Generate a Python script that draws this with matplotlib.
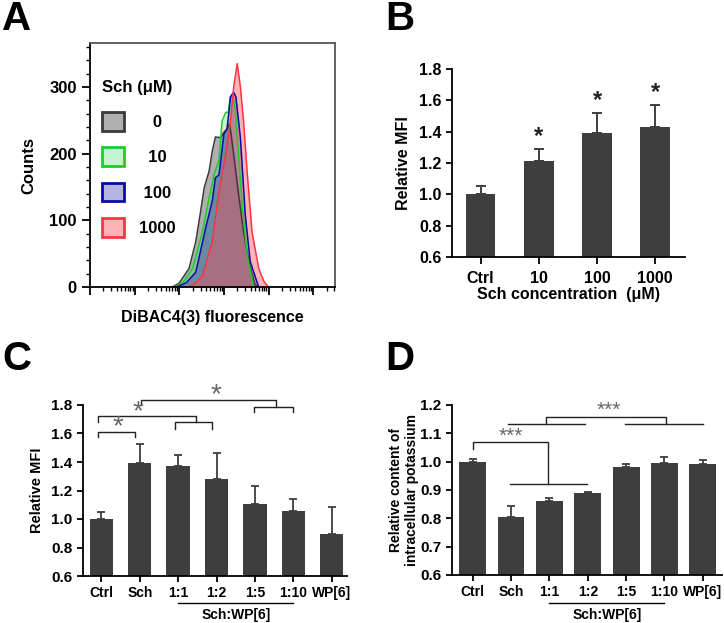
import matplotlib
matplotlib.use("Agg")
import matplotlib.pyplot as plt
import numpy as np
from matplotlib.patches import Patch
from matplotlib.ticker import MultipleLocator, LogLocator, NullFormatter
import matplotlib.transforms as mtransforms

plt.rcParams["font.family"] = ["Liberation Sans", "DejaVu Sans"]
plt.rcParams["font.weight"] = "bold"
plt.rcParams["axes.labelweight"] = "bold"

# ---- panel A: histogram outlines (log10 fluorescence, counts)
sch_doses = ["0", "10", "100", "1000"]
gray_dec = [1.85, 2.00, 2.22, 2.37, 2.48, 2.56, 2.67, 2.74, 2.81, 2.93, 3.00, 3.07, 3.13, 3.22, 3.33, 3.44, 3.56, 3.70, 3.80]
gray_cnt = [0, 6, 28, 68, 114, 149, 174, 204, 225, 224, 232, 237, 245, 199, 139, 83, 37, 3, 0]
green_dec = [1.90, 2.10, 2.30, 2.52, 2.67, 2.78, 2.89, 2.96, 3.04, 3.10, 3.14, 3.19, 3.25, 3.30, 3.41, 3.52, 3.67]
green_cnt = [0, 8, 28, 83, 134, 169, 190, 249, 262, 262, 285, 290, 270, 224, 124, 48, 0]
blue_dec = [1.93, 2.15, 2.37, 2.59, 2.74, 2.81, 2.89, 3.00, 3.07, 3.15, 3.22, 3.27, 3.37, 3.48, 3.59, 3.78]
blue_cnt = [0, 6, 22, 88, 129, 164, 168, 229, 237, 285, 292, 285, 224, 108, 38, 0]
red_dec = [2.19, 2.35, 2.52, 2.74, 2.85, 2.93, 3.04, 3.15, 3.22, 3.30, 3.37, 3.44, 3.52, 3.63, 3.78, 3.90, 4.00]
red_cnt = [0, 5, 17, 68, 124, 159, 199, 249, 300, 335, 300, 249, 174, 83, 28, 8, 0]

# ---- panel B
b_groups = ["Ctrl", "10", "100", "1000"]
b_mean = [1.00, 1.21, 1.39, 1.43]
b_err = [0.051, 0.078, 0.130, 0.142]
b_sig = ["", "*", "*", "*"]

# ---- panels C and D share groups
cd_groups = ["Ctrl", "Sch", "1:1", "1:2", "1:5", "1:10", "WP[6]"]
c_mean = [1.00, 1.395, 1.372, 1.282, 1.108, 1.054, 0.894]
c_err = [0.049, 0.132, 0.080, 0.184, 0.123, 0.087, 0.193]
d_mean = [0.998, 0.806, 0.861, 0.888, 0.982, 0.996, 0.993]
d_err = [0.013, 0.037, 0.012, 0.005, 0.010, 0.022, 0.012]

BAR = "#3e3e3e"
FW, FH = 724, 623


def px_axes(fig, left, top, right, bottom):
    return fig.add_axes([left / FW, 1 - bottom / FH, (right - left) / FW, (bottom - top) / FH])


def style_bar_axes(ax, fs_tick):
    for s in ["top", "right"]:
        ax.spines[s].set_visible(False)
    for s in ["left", "bottom"]:
        ax.spines[s].set_linewidth(1.3)
    ax.tick_params(direction="out", length=4, width=1.3, labelsize=fs_tick)


def bracket(ax, x0, x1, y, drop0, drop1, **kw):
    ax.plot([x0, x0, x1, x1], [y - drop0, y, y, y - drop1], clip_on=False, **kw)


fig = plt.figure(figsize=(FW / 100, FH / 100), dpi=100)

# ================= A =================
axA = px_axes(fig, 90, 43, 335, 287)
hist_sets = [
    (gray_dec, gray_cnt, "#606060", 0.5, "#3a3a3a"),
    (green_dec, green_cnt, "#40dd70", 0.3, "#1fcc2a"),
    (blue_dec, blue_cnt, "#2a2ab0", 0.35, "#0a0aa8"),
    (red_dec, red_cnt, "#ff4a55", 0.42, "#ff3344"),
]
handles = []
for dec, cnt, fc, al, ec in hist_sets:
    x = 10 ** np.array(dec)
    axA.fill_between(x, 0, cnt, color=fc, alpha=al, lw=0)
    axA.plot(x, cnt, color=ec, lw=1.1)
    handles.append(Patch(facecolor=matplotlib.colors.to_rgba(fc, al), edgecolor=ec, lw=2))
axA.set_xscale("log")
axA.set_xlim(1, 10 ** 5.49)
axA.set_ylim(0, 366)
axA.xaxis.set_major_locator(LogLocator(base=10, numticks=10))
axA.xaxis.set_minor_locator(LogLocator(base=10, subs=np.arange(2, 10), numticks=20))
axA.xaxis.set_major_formatter(NullFormatter())
axA.xaxis.set_minor_formatter(NullFormatter())
axA.yaxis.set_major_locator(MultipleLocator(100))
axA.yaxis.set_minor_locator(MultipleLocator(20))
axA.tick_params(which="major", direction="out", length=6, width=1.3, labelsize=12)
axA.tick_params(which="minor", direction="out", length=3, width=1.0)
for s in axA.spines.values():
    s.set_linewidth(1.3)
    s.set_color("#555555")
axA.spines["left"].set_color("black")
axA.spines["bottom"].set_color("black")
axA.set_ylabel("Counts", fontsize=12, labelpad=9)
axA.set_xlabel("DiBAC4(3) fluorescence", fontsize=11.5, labelpad=7)
width = max(len(s) for s in sch_doses)
leg = axA.legend(handles, [" " * (width - len(s)) + s for s in sch_doses],
                 title="Sch (\u03bcM)", loc="upper left", bbox_to_anchor=(0.0, 0.895),
                 frameon=False, fontsize=12, title_fontproperties={"weight": "bold", "size": 12},
                 handlelength=1.35, handleheight=1.35, labelspacing=1.0, handletextpad=0.9,
                 alignment="left", borderpad=0.2)

# ================= B =================
axB = px_axes(fig, 452, 69, 685, 257)
xb = np.arange(len(b_groups))
axB.errorbar(xb, b_mean, yerr=[np.zeros(len(b_err)), b_err], fmt="none", ecolor=BAR,
             elinewidth=1.4, capsize=3.6, capthick=1.4, zorder=1)
axB.bar(xb, b_mean, width=0.51, color=BAR, zorder=2, bottom=0)
for xi, m, e, s in zip(xb, b_mean, b_err, b_sig):
    if s:
        axB.text(xi, m + e + 0.08, s, ha="center", va="center", fontsize=17, color="#222222")
axB.set_ylim(0.6, 1.8)
axB.set_xlim(-0.49, 3.51)
axB.yaxis.set_major_locator(MultipleLocator(0.2))
axB.set_xticks(xb)
axB.set_xticklabels(b_groups)
style_bar_axes(axB, 11.5)
axB.tick_params(axis="x", length=5, pad=5)
axB.set_ylabel("Relative MFI", fontsize=11.5, labelpad=6)
axB.set_xlabel("Sch concentration  (\u03bcM)", fontsize=11.5, labelpad=1)

# ================= C =================
axC = px_axes(fig, 83, 405, 347, 576)
xc = np.arange(len(cd_groups))
axC.errorbar(xc, c_mean, yerr=[np.zeros(len(c_err)), c_err], fmt="none", ecolor=BAR,
             elinewidth=1.3, capsize=3, capthick=1.3, zorder=1)
axC.bar(xc, c_mean, width=0.61, color=BAR, zorder=2)
axC.set_ylim(0.6, 1.8)
axC.set_xlim(-0.48, 6.4)
axC.yaxis.set_major_locator(MultipleLocator(0.2))
axC.set_xticks(xc)
axC.set_xticklabels(cd_groups)
style_bar_axes(axC, 10)
axC.tick_params(axis="y", labelsize=11)
axC.set_ylabel("Relative MFI", fontsize=10.5, labelpad=5)
bk = dict(color="#222222", lw=1.0)
bracket(axC, -0.08, 0.88, 1.612, 0.036, 0.036, **bk)
bracket(axC, -0.10, 2.47, 1.722, 0.040, 0.044, **bk)
bracket(axC, 1.93, 2.89, 1.678, 0.043, 0.043, **bk)
bracket(axC, 1.04, 4.55, 1.835, 0.035, 0.047, **bk)
bracket(axC, 3.97, 5.00, 1.788, 0.040, 0.040, **bk)
sk = dict(ha="center", va="center", color="#666666", fontweight="normal")
axC.text(0.43, 1.645, "*", fontsize=20, **sk)
axC.text(0.95, 1.747, "*", fontsize=20, **sk)
axC.text(2.98, 1.868, "*", fontsize=20, **sk)

# ================= D =================
axD = px_axes(fig, 452, 405, 722, 575)
xd = np.arange(len(cd_groups))
axD.errorbar(xd, d_mean, yerr=[np.zeros(len(d_err)), d_err], fmt="none", ecolor=BAR,
             elinewidth=1.3, capsize=3, capthick=1.3, zorder=1)
axD.bar(xd, d_mean, width=0.70, color=BAR, zorder=2)
axD.set_ylim(0.6, 1.2)
axD.set_xlim(-0.54, 6.5)
axD.yaxis.set_major_locator(MultipleLocator(0.1))
axD.set_xticks(xd)
axD.set_xticklabels(cd_groups)
style_bar_axes(axD, 10)
axD.tick_params(axis="y", labelsize=11)
axD.set_ylabel("Relative content of\nintracellular potassium", fontsize=10, labelpad=1,
               linespacing=1.15)
# lower comparison: Ctrl vs Sch..1:2
axD.plot([0.0, 0.0, 1.97, 1.97], [1.045, 1.068, 1.068, 0.920], clip_on=False, **bk)
axD.plot([0.96, 2.98], [0.920, 0.920], **bk)
# upper comparison: Sch..1:2 vs 1:5..WP[6]
axD.plot([0.93, 2.92], [1.132, 1.132], **bk)
axD.plot([3.98, 6.00], [1.132, 1.132], clip_on=False, **bk)
axD.plot([1.91, 1.91, 5.03, 5.03], [1.132, 1.159, 1.159, 1.132], **bk)
axD.text(0.99, 1.088, "***", fontsize=15, **sk)
axD.text(3.54, 1.181, "***", fontsize=15, **sk)

# group line under x axis for C and D
for ax, yl, yt in [(axC, -0.156, -0.23), (axD, -0.167, -0.235)]:
    tr = mtransforms.blended_transform_factory(ax.transData, ax.transAxes)
    ax.plot([2, 5], [yl, yl], transform=tr, color="black", lw=1.0, clip_on=False)
    ax.text(3.5, yt, "Sch:WP[6]", transform=tr, ha="center", va="center", fontsize=10)

# panel letters
for lab, xp, yp in [("A", 2, 0), ("B", 385, 0), ("C", 2, 340), ("D", 385, 340)]:
    fig.text(xp / FW, 1 - yp / FH, lab, fontsize=29, fontweight="bold", va="top", ha="left")

fig.savefig("out.png", dpi=100, facecolor="white")
